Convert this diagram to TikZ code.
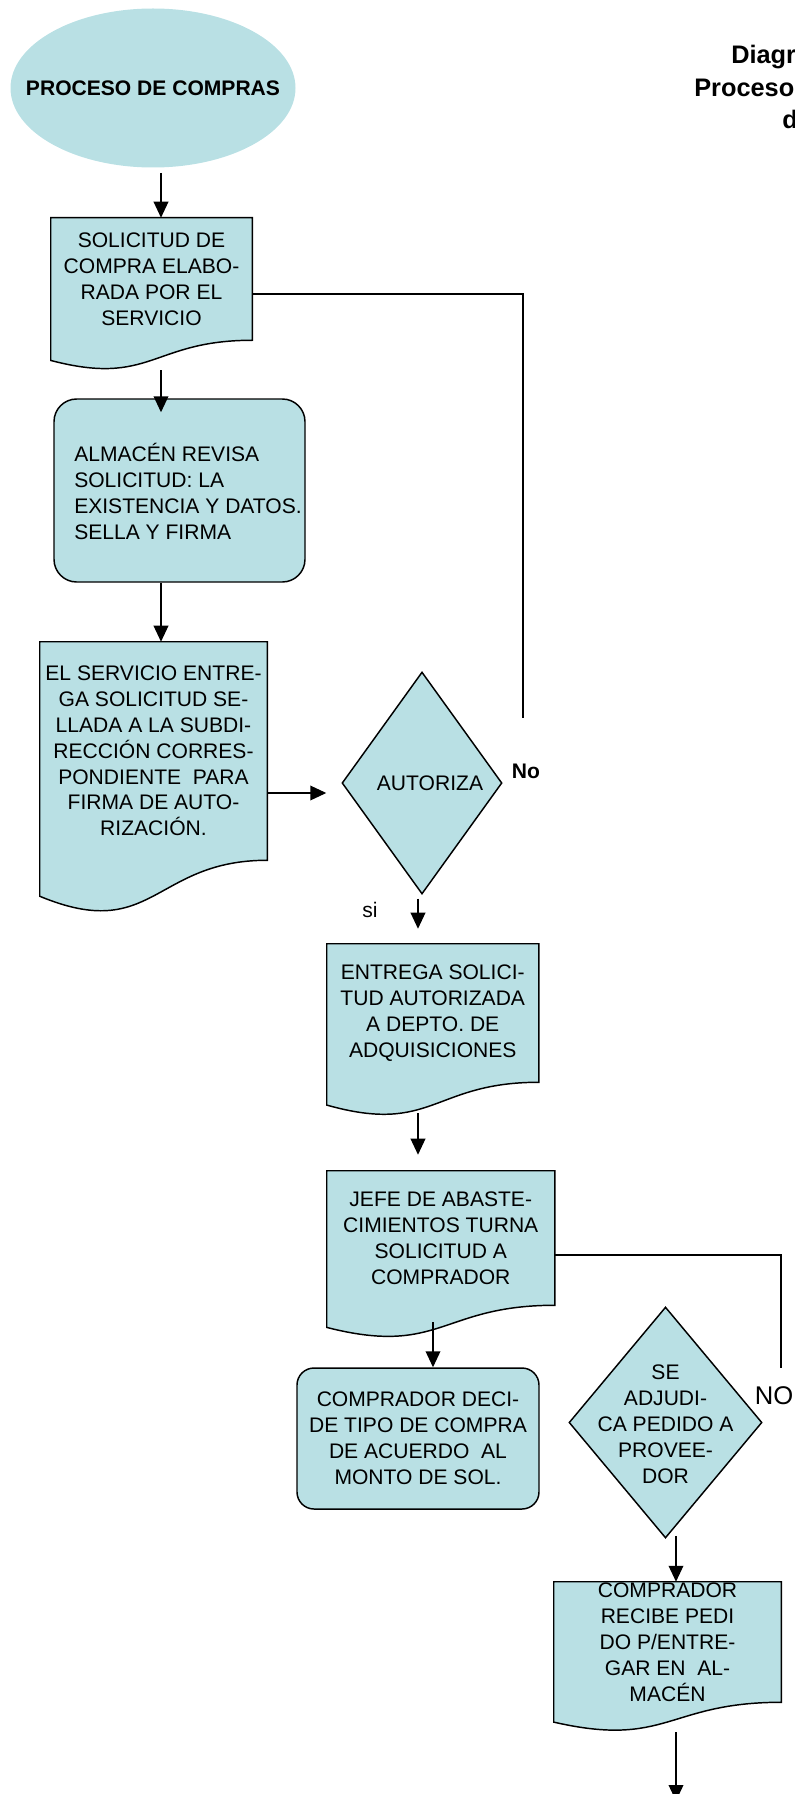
\documentclass[tikz,border=0pt]{standalone}
\usepackage{fontspec}
\setmainfont{Liberation Sans}
\usetikzlibrary{shapes.geometric,arrows.meta,calc,backgrounds}
\definecolor{boxfill}{HTML}{B9E0E4}

\tikzset{
  wh/.style 2 args={minimum width=#1*0.75pt, minimum height=#2*0.75pt},
  body/.style={font=\fontsize{15.8}{19.4}\selectfont, align=center, inner sep=0pt},
  docbox/.style={body, rectangle},
  roundbox/.style={rectangle, rounded corners=#1, draw, fill=boxfill, line width=1.1pt, inner sep=0pt},
  decision/.style={diamond, draw, fill=boxfill, line width=1.1pt, body},
  docline/.style={draw, fill=boxfill, line width=1.1pt},
  conn/.style={line width=1.1pt},
  arr/.style={conn, -{Triangle[length=12pt,width=11pt]}},
  lab/.style={inner sep=0pt, font=\fontsize{15.8}{19.4}\selectfont},
  heading/.style={inner sep=0pt, anchor=base west, font=\bfseries\fontsize{19}{23}\selectfont},
}

% document symbol: the node box is the upper part, the wavy edge hangs below it
\newcommand{\docshape}[1]{%
  \path[docline] let \p1=(#1.south west), \p2=(#1.north east) in
    (\x1,\y2) -- (\x2,\y2) -- (\x2,\y1)
    .. controls ({0.5*(\x1+\x2)},\y1) and ({0.5*(\x1+\x2)},{\y1-0.3809*(\y2-\y1)})
    .. (\x1,{\y1-0.1646*(\y2-\y1)}) -- cycle;}

\begin{document}
\begin{tikzpicture}[x=0.75pt,y=-0.75pt]
\useasboundingbox (0,0) rectangle (795,1794);

% heading, running past the right edge
\node[heading] (t1) at (731,63.5) {Diagr};
\node[heading] (t2) at (694,96.5) {Proceso};
\node[heading] (t3) at (782,128.5) {d};

% start
\node[ellipse, fill=boxfill, wh={285}{159}, inner sep=0pt] (ell) at (153,88) {};
\node[inner sep=0pt, font=\bfseries\fontsize{15.8}{19.4}\selectfont] (elltext) at (153,88) {PROCESO DE COMPRAS};

% steps
\node[docbox, wh={201}{122}] (doc1) at (151.5,279)
  {SOLICITUD DE\\COMPRA ELABO-\\RADA POR EL\\SERVICIO};
\node[roundbox=17pt, wh={251}{183}] (alm) at (179.5,490.5) {};
\node[body, align=left, anchor=west] (almtext) at (74,491.5)
  {ALMACÉN REVISA\\SOLICITUD: LA\\EXISTENCIA Y DATOS.\\SELLA Y FIRMA};
\node[docbox, wh={227}{218}] (doc2) at (153.5,751)
  {EL SERVICIO ENTRE-\\GA SOLICITUD SE-\\LLADA A LA SUBDI-\\RECCIÓN CORRES-\\PONDIENTE\ \ PARA\\FIRMA DE AUTO-\\RIZACIÓN.};
\node[decision, wh={160}{222}] (aut) at (422,783) {\hspace*{12pt}AUTORIZA};
\node[docbox, wh={211.5}{138}] (doc3) at (432.75,1013)
  {ENTREGA SOLICI-\\TUD AUTORIZADA\\A DEPTO. DE\\ADQUISICIONES};
\node[docbox, wh={227.5}{134}] (doc4) at (440.75,1238)
  {JEFE DE ABASTE-\\CIMIENTOS TURNA\\SOLICITUD A\\COMPRADOR};
\node[roundbox=12.75pt, body, wh={242}{141}] (comp) at (418,1438.5)
  {COMPRADOR DECI-\\DE TIPO DE COMPRA\\DE ACUERDO\ \ AL\\MONTO DE SOL.};
\node[decision, wh={193}{231}] (adj) at (665.5,1422.5) {};
\node[body] (adjtext) at (665.5,1424) {SE\\ADJUDI-\\CA PEDIDO A\\PROVEE-\\DOR};
\node[docbox, wh={227}{120}] (doc5) at (667.5,1642)
  {COMPRADOR\\RECIBE PEDI\\DO P/ENTRE-\\GAR EN\ \ AL-\\MACÉN};

\begin{pgfonlayer}{background}
  \docshape{doc1}
  \docshape{doc2}
  \docshape{doc3}
  \docshape{doc4}
  \docshape{doc5}
\end{pgfonlayer}

% guide columns and rows for the connectors
\coordinate (colA) at (161,0);
\coordinate (colB) at (418,0);
\coordinate (colC) at (433,0);
\coordinate (colD) at (676,0);
\coordinate (rowA) at (0,793);
\coordinate (n1a) at (523,294);
\coordinate (n1b) at (523,718);
\coordinate (n2a) at (781,1255);
\coordinate (n2b) at (781,1368);
\coordinate (fin) at (676,1801);

% main flow
\draw[arr] ($(ell.south -| colA)+(0,5)$) -- (doc1.north -| colA);
\draw[arr] ($(doc1.south -| colA)+(0,30)$) -- ($(alm.north -| colA)+(0,14)$);
\draw[arr] (alm.south -| colA) -- (doc2.north -| colA);
\draw[arr] (doc2.east |- rowA) -- ($(aut.west |- rowA)+(-15,0)$);
\draw[arr] ($(aut.south -| colB)+(0,4)$) -- ($(doc3.north -| colB)+(0,-15)$);
\draw[arr] ($(doc3.south -| colB)+(0,31)$) -- ($(doc4.north -| colB)+(0,-16)$);
\draw[arr] ($(doc4.south -| colC)+(0,17)$) -- (comp.north -| colC);
\draw[arr] ($(adj.south -| colD)+(0,-3)$) -- (doc5.north -| colD);
\draw[arr] ($(doc5.south -| colD)+(0,30)$) -- (fin);

% "no" branches
\draw[conn] (doc1.east |- n1a) -- (n1a) -- (n1b);
\draw[conn] (doc4.east |- n2a) -- (n2a) -- (n2b);

% branch labels
\node[lab, font=\bfseries\fontsize{15.8}{19.4}\selectfont] (nolab1) at (526,771) {No};
\node[lab] (silab) at (370,910) {si};
\node[lab, font=\fontsize{19.2}{23}\selectfont] (nolab2) at (774,1396) {NO};
\end{tikzpicture}
\end{document}
